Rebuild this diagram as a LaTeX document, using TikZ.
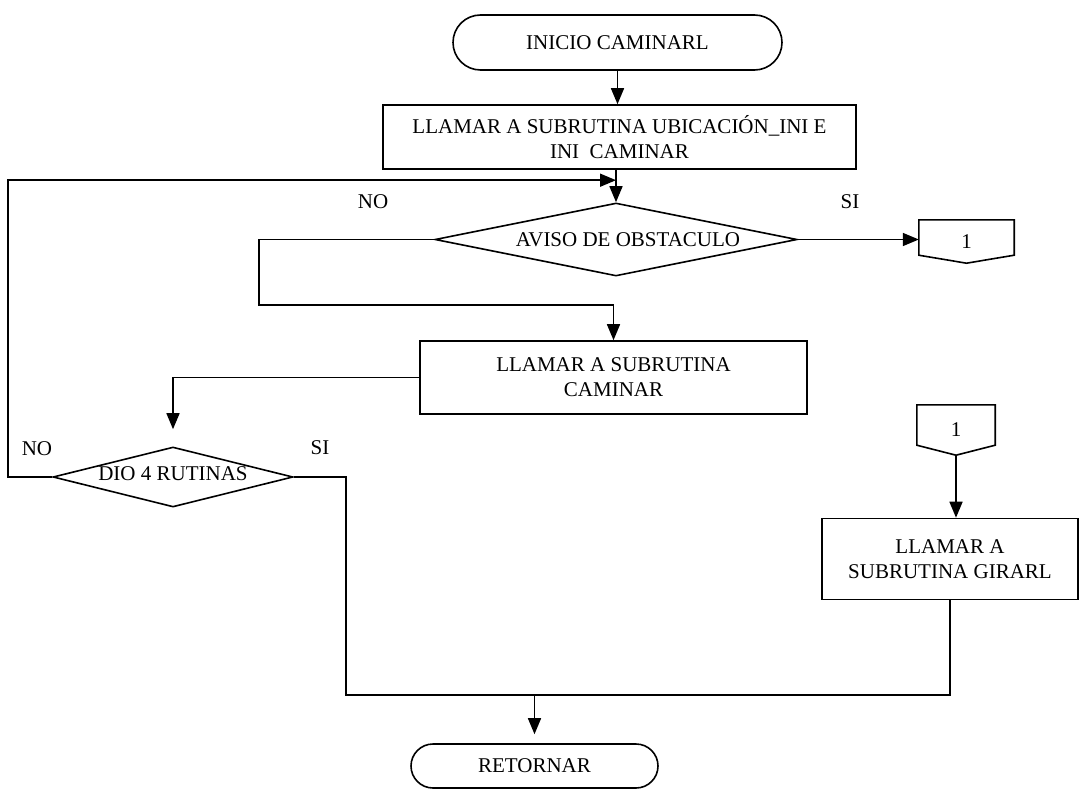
\documentclass[tikz,border=0pt]{standalone}
\usepackage{fontspec}
\setmainfont{Liberation Serif}
\usetikzlibrary{shapes.misc,shapes.geometric,arrows.meta,calc}
\begin{document}
\begin{tikzpicture}[x=1pt,y=-1pt,
  every node/.style={font=\fontsize{21}{25}\selectfont},
  flow/.style={line width=1.6pt, draw=black},
  arr/.style={flow, -{Triangle[length=16pt,width=13pt]}},
  terminal/.style={rounded rectangle, draw, line width=1.6pt, inner sep=0pt},
  procbox/.style={rectangle, draw, line width=1.6pt, inner sep=0pt, align=center},
  decision/.style={diamond, draw, line width=1.6pt, inner sep=0pt},
  offpage/.style={rectangle, inner sep=0pt},
]
\fill[white] (0,0) rectangle (1081,789);
\useasboundingbox (0,0) rectangle (1081,789);

% main column
\node[terminal, minimum width=329pt, minimum height=55pt] (start) at (617.5,42.5) {INICIO CAMINARL};
\node[procbox, minimum width=473pt, minimum height=64pt] (box1) at (619.5,137)
  {\fontsize{21}{28}\selectfont LLAMAR A SUBRUTINA UBICACIÓN\_INI E\\INI\ \ CAMINAR};
\node[decision, minimum width=362pt, minimum height=73pt,
  label={[xshift=12pt]center:AVISO DE OBSTACULO}] (d1) at (616,239.5) {};
\node[offpage, minimum width=95pt, minimum height=43pt] (c1) at (966.5,241.5) {1};
\node[procbox, minimum width=387pt, minimum height=73pt] (box2) at (613.5,377.5)
  {LLAMAR A SUBRUTINA\\CAMINAR};
\node[decision, minimum width=240pt, minimum height=60pt,
  label={[yshift=3pt]center:DIO 4 RUTINAS}] (d2) at (173,477) {};
\node[offpage, minimum width=78pt, minimum height=50pt] (c2) at (956,430) {1};
\node[procbox, minimum width=256pt, minimum height=81pt] (box3) at (950,559)
  {LLAMAR A\\SUBRUTINA GIRARL};
\node[terminal, minimum width=247pt, minimum height=44pt] (endn) at (534.5,766) {RETORNAR};

% off-page connector outlines
\draw[flow] (c1.north west) -- (c1.north east) -- ([yshift=8pt]c1.south east)
  -- (c1.south) -- ([yshift=8pt]c1.south west) -- cycle;
\draw[flow] (c2.north west) -- (c2.north east) -- ([yshift=10pt]c2.south east)
  -- (c2.south) -- ([yshift=10pt]c2.south west) -- cycle;

% branch labels
\node (noA) at (373,202) {NO};
\node (siA) at (850,202) {SI};
\node (noB) at (37,449) {NO};
\node (siB) at (320,448) {SI};

% connectors
\coordinate (loopin) at ($(d1.north)+(0,-22)$);
\coordinate (merge) at ($(endn.north)+(0,-48)$);

\draw[arr] (start.south) -- (start.south |- box1.north);
\draw[arr] (box1.south -| d1.north) -- (d1.north);
\draw[arr] (d2.west) -- ++(-44,0) |- (loopin);
\draw[arr] (d1.west) -- ++(-175,0) |- ($(box2.north)+(0,-35)$) -- (box2.north);
\draw[arr] (d1.east) -- (d1.east -| c1.west);
\draw[arr, shorten >=17pt] (box2.west) -| (d2.north);
\draw[arr] (c2.south) -- (c2.south |- box3.north);
\draw[flow] (d2.east) -- ++(52,0) |- (merge);
\draw[flow] (box3.south) |- (merge);
\draw[arr, shorten >=9pt] (merge) -- (endn.north);
\end{tikzpicture}
\end{document}
